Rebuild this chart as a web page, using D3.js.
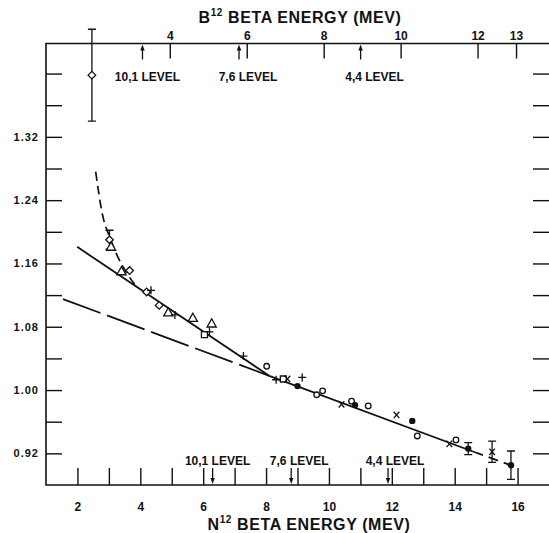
<!DOCTYPE html>
<html lang="en">
<head>
<meta charset="UTF-8">
<title>N12 / B12 beta energy</title>
<style>
  body { margin: 0; background: #fff; }
  svg text { font-family: "Liberation Sans", Arial, sans-serif; font-weight: bold; fill: #111; }
</style>
</head>
<body>
<svg width="549" height="533"></svg>
<script src="https://d3js.org/d3.v7.min.js"></script>
<script>

// ---- data (x = N12 beta energy, y = ratio) ----
var diamonds      = [[2.46, 1.398], [3.02, 1.190], [3.66, 1.151], [4.20, 1.124], [4.60, 1.107]];
var triangles     = [[3.07, 1.181], [3.40, 1.150], [4.89, 1.098], [5.67, 1.091], [6.27, 1.084]];
var pluses        = [[4.34, 1.126], [5.10, 1.095], [6.20, 1.0735], [7.28, 1.043], [8.32, 1.013], [9.15, 1.016]];
var squares       = [[6.04, 1.070], [8.55, 1.014]];
var crosses       = [[8.68, 1.014], [10.40, 0.982], [12.15, 0.9685], [13.83, 0.932], [15.19, 0.922]];
var openCircles   = [[8.02, 1.030], [9.61, 0.994], [9.80, 0.999], [10.72, 0.986], [11.25, 0.980], [12.81, 0.942], [14.04, 0.937]];
var filledCircles = [[9.00, 1.005], [10.83, 0.981], [12.65, 0.961], [14.43, 0.926], [15.79, 0.905]];
// [energy, value, half error]
var errorBars     = [[2.46, 1.398, 0.058], [3.02, 1.190, 0.012], [14.43, 0.926, 0.0075], [15.19, 0.922, 0.0135], [15.79, 0.905, 0.018]];

// fitted lines
var steepLine  = [[1.99, 1.181], [8.10, 1.018]];
var longDash   = [[1.54, 1.115], [8.10, 1.018]];
var mainSolid  = [[8.10, 1.018], [14.60, 0.922]];
var mainDash   = [[14.60, 0.922], [15.85, 0.904]];
var lowCurve   = [[2.58, 1.276], [2.80, 1.221], [3.04, 1.192], [3.30, 1.167], [3.57, 1.148], [3.83, 1.133]];

// axes
var bottomTicks  = [2, 3, 4, 5, 6, 7, 8, 9, 10, 11, 12, 13, 14, 15, 16];
var bottomLabels = [2, 4, 6, 8, 10, 12, 14, 16];
var topTicks     = [4, 6, 8, 10, 12, 13];
var yTicks       = [0.92, 0.96, 1.00, 1.04, 1.08, 1.12, 1.16, 1.20, 1.24, 1.28, 1.32, 1.36, 1.40];
var yLabels      = [0.92, 1.00, 1.08, 1.16, 1.24, 1.32];

var levelNames   = ['10,1 LEVEL', '7,6 LEVEL', '4,4 LEVEL'];
var bottomLevels = [6.30, 8.80, 11.88];   // N12 energy
var topLevels    = [3.29, 5.80, 8.96];    // B12 energy

var svg = d3.select('svg');

var mLeft = 46, mRight = 549, mTop = 43.5, mBottom = 485;

var x = d3.scaleLinear().domain([1, 17]).range([mLeft, mRight]);
var xTop = d3.scaleLinear().domain([0.782, 13.857]).range([mLeft, mRight]);
var y = d3.scaleLinear().domain([0.88, 1.438]).range([mBottom, mTop]);

// frame
svg.append('path')
  .attr('d', 'M' + (mRight + 2) + ',' + mTop + 'H' + mLeft + 'V' + mBottom + 'H' + (mRight + 2))
  .attr('fill', 'none').attr('stroke', '#111').attr('stroke-width', 1.6);

function styleAxis(g) {
  g.select('.domain').remove();
  g.selectAll('.tick line').attr('stroke', '#111').attr('stroke-width', 1.4);
  g.selectAll('.tick text').attr('font-size', 12).attr('fill', '#111');
}

// bottom axis
svg.append('g')
  .attr('transform', 'translate(0,' + mBottom + ')')
  .call(d3.axisBottom(x).tickValues(bottomTicks).tickSize(-17).tickPadding(17)
    .tickFormat(function(d) { return bottomLabels.indexOf(d) >= 0 ? d : ''; }))
  .call(styleAxis);

// top axis (B12)
svg.append('g')
  .attr('transform', 'translate(0,' + mTop + ')')
  .call(d3.axisTop(xTop).tickValues(topTicks).tickSize(-15).tickPadding(4))
  .call(styleAxis);

// left axis
svg.append('g')
  .attr('transform', 'translate(' + mLeft + ',0)')
  .call(d3.axisLeft(y).tickValues(yTicks).tickSize(-16).tickPadding(7)
    .tickFormat(function(d) {
      return yLabels.some(function(v) { return Math.abs(v - d) < 1e-6; }) ? d3.format('.2f')(d) : '';
    }))
  .call(styleAxis)
  .selectAll('.tick text').attr('font-size', 11).attr('letter-spacing', 1);

// right axis (no labels)
svg.append('g')
  .attr('transform', 'translate(' + mRight + ',0)')
  .call(d3.axisRight(y).tickValues(yTicks).tickSize(-16).tickFormat(''))
  .call(styleAxis);

// level arrows
function arrow(px, y1, y2) {
  var dir = y2 > y1 ? 1 : -1;
  svg.append('line').attr('x1', px).attr('x2', px).attr('y1', y1).attr('y2', y2 - dir * 4)
    .attr('stroke', '#111').attr('stroke-width', 1.3);
  svg.append('path')
    .attr('d', 'M' + px + ',' + y2 + 'L' + (px - 2.2) + ',' + (y2 - dir * 6) + 'L' + (px + 2.2) + ',' + (y2 - dir * 6) + 'Z')
    .attr('fill', '#111');
}
var bottomOffsets = [5, 8, 7];
bottomLevels.forEach(function(e, i) {
  arrow(x(e), mBottom - 17, mBottom - 1);
  svg.append('text').attr('x', x(e) + bottomOffsets[i]).attr('y', 465)
    .attr('text-anchor', 'middle').attr('font-size', 12).text(levelNames[i]);
});
var topOffsets = [5, 9, 14];
topLevels.forEach(function(e, i) {
  arrow(xTop(e), mTop + 16, mTop + 1);
  svg.append('text').attr('x', xTop(e) + topOffsets[i]).attr('y', 81)
    .attr('text-anchor', 'middle').attr('font-size', 12).text(levelNames[i]);
});

// titles
function title(letter, cx, by) {
  var t = svg.append('text').attr('x', cx).attr('y', by).attr('text-anchor', 'middle')
    .attr('font-size', 16).attr('letter-spacing', 0.6);
  t.append('tspan').text(letter);
  t.append('tspan').attr('dy', -7).attr('font-size', 10).text('12');
  t.append('tspan').attr('dy', 7).text(' BETA ENERGY (MEV)');
}
title('B', 300, 23);
title('N', 309, 530);

// lines
var line = d3.line().x(function(d) { return x(d[0]); }).y(function(d) { return y(d[1]); });

svg.append('path').attr('d', line(steepLine))
  .attr('fill', 'none').attr('stroke', '#111').attr('stroke-width', 1.8);
svg.append('path').attr('d', line(longDash))
  .attr('fill', 'none').attr('stroke', '#111').attr('stroke-width', 1.8).attr('stroke-dasharray', '40,7');
svg.append('path').attr('d', line(mainSolid))
  .attr('fill', 'none').attr('stroke', '#111').attr('stroke-width', 1.8);
svg.append('path').attr('d', line(mainDash))
  .attr('fill', 'none').attr('stroke', '#111').attr('stroke-width', 1.8).attr('stroke-dasharray', '10,6');
svg.append('path').attr('d', line.curve(d3.curveMonotoneX)(lowCurve))
  .attr('fill', 'none').attr('stroke', '#111').attr('stroke-width', 1.7).attr('stroke-dasharray', '9,5');

// error bars
var eb = svg.append('g').attr('stroke', '#111').attr('stroke-width', 1.3).attr('fill', 'none');
errorBars.forEach(function(d) {
  var px = x(d[0]), y1 = y(d[1] + d[2]), y2 = y(d[1] - d[2]);
  eb.append('path').attr('d', 'M' + px + ',' + y1 + 'V' + y2 +
    'M' + (px - 4) + ',' + y1 + 'H' + (px + 4) + 'M' + (px - 4) + ',' + y2 + 'H' + (px + 4));
});

// markers
function pos(d) { return 'translate(' + x(d[0]) + ',' + y(d[1]) + ')'; }
function markers(data, shape, fill) {
  svg.append('g').selectAll('path').data(data).enter().append('path')
    .attr('transform', pos).attr('d', shape)
    .attr('fill', fill).attr('stroke', '#111').attr('stroke-width', 1.3);
}
markers(diamonds, 'M0,-3.8L3.8,0L0,3.8L-3.8,0Z', '#fff');
markers(triangles, 'M0,-4.8L4.6,3.4L-4.6,3.4Z', '#fff');
markers(squares, 'M-3,-3H3V3H-3Z', '#fff');
markers(pluses, 'M-4,0H4M0,-4V4', 'none');
markers(crosses, 'M-2.8,-3.2L2.8,3.2M2.8,-3.2L-2.8,3.2', 'none');

svg.append('g').selectAll('circle').data(openCircles).enter().append('circle')
  .attr('cx', function(d) { return x(d[0]); }).attr('cy', function(d) { return y(d[1]); })
  .attr('r', 2.8).attr('fill', '#fff').attr('stroke', '#111').attr('stroke-width', 1.3);
svg.append('g').selectAll('circle').data(filledCircles).enter().append('circle')
  .attr('cx', function(d) { return x(d[0]); }).attr('cy', function(d) { return y(d[1]); })
  .attr('r', 3.2).attr('fill', '#111');

</script>
</body>
</html>
